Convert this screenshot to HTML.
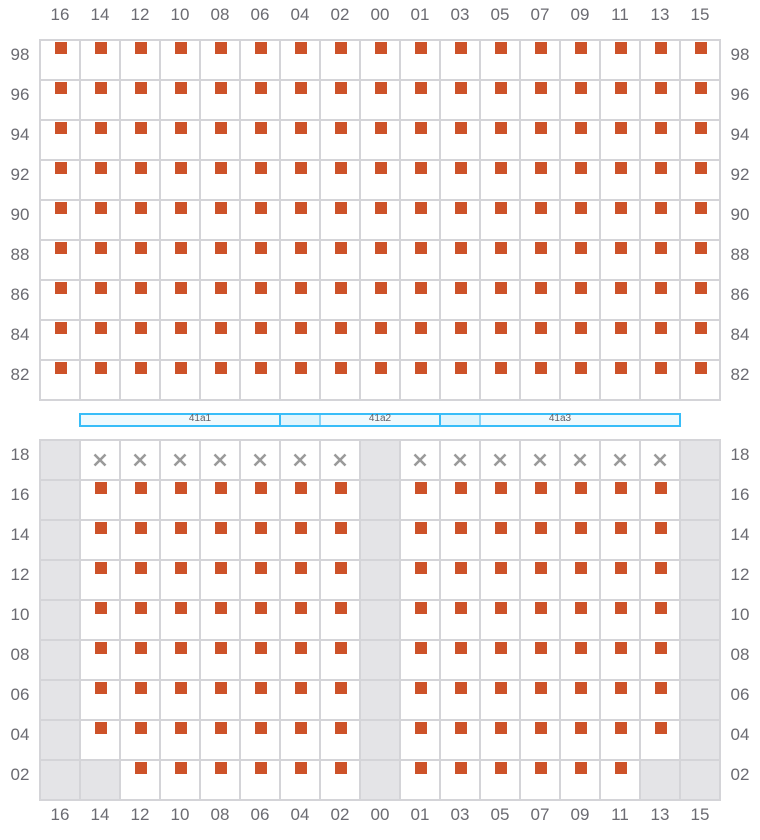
<!DOCTYPE html>
<html>
<head>
<meta charset="utf-8">
<style>
  html, body { margin: 0; padding: 0; background: #ffffff; }
  svg { display: block; }
  text { font-family: "Liberation Sans", Arial, sans-serif; }
  .ax { font-size: 17px; fill: #6b6b72; text-anchor: middle; }
  .bl { font-size: 10px; fill: #5f5f66; text-anchor: middle; }
</style>
</head>
<body>
<svg width="760" height="840" viewBox="0 0 760 840" xmlns="http://www.w3.org/2000/svg">
  <defs>
    <pattern id="sq" patternUnits="userSpaceOnUse" x="40" y="40" width="40" height="40">
      <rect x="15" y="2" width="12" height="12" fill="#cd5229"/>
    </pattern>
    <pattern id="xx" patternUnits="userSpaceOnUse" x="40" y="40" width="40" height="40">
      <path d="M14.5 14.5 L25.5 25.5 M25.5 14.5 L14.5 25.5" stroke="#9a9a9a" stroke-width="2.6" fill="none"/>
    </pattern>
  </defs>

  <rect x="0" y="0" width="760" height="840" fill="#ffffff"/>

  <!-- TOP SECTION -->
  <rect x="40" y="40" width="680" height="360" fill="#ffffff"/>
  <rect x="40" y="40" width="680" height="360" fill="url(#sq)"/>
  <g stroke="#d4d4d8" stroke-width="2" stroke-linecap="square">
    <line x1="40" y1="40" x2="40" y2="400"/>
    <line x1="80" y1="40" x2="80" y2="400"/>
    <line x1="120" y1="40" x2="120" y2="400"/>
    <line x1="160" y1="40" x2="160" y2="400"/>
    <line x1="200" y1="40" x2="200" y2="400"/>
    <line x1="240" y1="40" x2="240" y2="400"/>
    <line x1="280" y1="40" x2="280" y2="400"/>
    <line x1="320" y1="40" x2="320" y2="400"/>
    <line x1="360" y1="40" x2="360" y2="400"/>
    <line x1="400" y1="40" x2="400" y2="400"/>
    <line x1="440" y1="40" x2="440" y2="400"/>
    <line x1="480" y1="40" x2="480" y2="400"/>
    <line x1="520" y1="40" x2="520" y2="400"/>
    <line x1="560" y1="40" x2="560" y2="400"/>
    <line x1="600" y1="40" x2="600" y2="400"/>
    <line x1="640" y1="40" x2="640" y2="400"/>
    <line x1="680" y1="40" x2="680" y2="400"/>
    <line x1="720" y1="40" x2="720" y2="400"/>
    <line x1="40" y1="40" x2="720" y2="40"/>
    <line x1="40" y1="80" x2="720" y2="80"/>
    <line x1="40" y1="120" x2="720" y2="120"/>
    <line x1="40" y1="160" x2="720" y2="160"/>
    <line x1="40" y1="200" x2="720" y2="200"/>
    <line x1="40" y1="240" x2="720" y2="240"/>
    <line x1="40" y1="280" x2="720" y2="280"/>
    <line x1="40" y1="320" x2="720" y2="320"/>
    <line x1="40" y1="360" x2="720" y2="360"/>
    <line x1="40" y1="400" x2="720" y2="400"/>
  </g>

  <!-- BLUE BARS -->
  <g stroke="#38bdf8" stroke-width="2">
    <rect x="80" y="414" width="240" height="12" fill="rgba(56,189,248,0.08)"/>
    <rect x="280" y="414" width="200" height="12" fill="rgba(56,189,248,0.08)"/>
    <rect x="440" y="414" width="240" height="12" fill="rgba(56,189,248,0.08)"/>
  </g>
  <g stroke="#8ad4f6" stroke-width="2">
    <line x1="320" y1="415" x2="320" y2="425"/>
    <line x1="480" y1="415" x2="480" y2="425"/>
  </g>
  <text class="bl" x="200" y="421">41a1</text>
  <text class="bl" x="380" y="421">41a2</text>
  <text class="bl" x="560" y="421">41a3</text>

  <!-- BOTTOM SECTION -->
  <rect x="40" y="440" width="680" height="360" fill="#ffffff"/>
  <g fill="#e4e4e7">
    <rect x="40" y="440" width="40" height="360"/>
    <rect x="360" y="440" width="40" height="360"/>
    <rect x="680" y="440" width="40" height="360"/>
    <rect x="80" y="760" width="40" height="40"/>
    <rect x="640" y="760" width="40" height="40"/>
  </g>
  <rect x="80" y="440" width="280" height="40" fill="url(#xx)"/>
  <rect x="400" y="440" width="280" height="40" fill="url(#xx)"/>
  <rect x="80" y="480" width="280" height="280" fill="url(#sq)"/>
  <rect x="400" y="480" width="280" height="280" fill="url(#sq)"/>
  <rect x="120" y="760" width="240" height="40" fill="url(#sq)"/>
  <rect x="400" y="760" width="240" height="40" fill="url(#sq)"/>
  <g stroke="#d4d4d8" stroke-width="2" stroke-linecap="square">
    <line x1="40" y1="440" x2="40" y2="800"/>
    <line x1="80" y1="440" x2="80" y2="800"/>
    <line x1="120" y1="440" x2="120" y2="800"/>
    <line x1="160" y1="440" x2="160" y2="800"/>
    <line x1="200" y1="440" x2="200" y2="800"/>
    <line x1="240" y1="440" x2="240" y2="800"/>
    <line x1="280" y1="440" x2="280" y2="800"/>
    <line x1="320" y1="440" x2="320" y2="800"/>
    <line x1="360" y1="440" x2="360" y2="800"/>
    <line x1="400" y1="440" x2="400" y2="800"/>
    <line x1="440" y1="440" x2="440" y2="800"/>
    <line x1="480" y1="440" x2="480" y2="800"/>
    <line x1="520" y1="440" x2="520" y2="800"/>
    <line x1="560" y1="440" x2="560" y2="800"/>
    <line x1="600" y1="440" x2="600" y2="800"/>
    <line x1="640" y1="440" x2="640" y2="800"/>
    <line x1="680" y1="440" x2="680" y2="800"/>
    <line x1="720" y1="440" x2="720" y2="800"/>
    <line x1="40" y1="440" x2="720" y2="440"/>
    <line x1="40" y1="480" x2="720" y2="480"/>
    <line x1="40" y1="520" x2="720" y2="520"/>
    <line x1="40" y1="560" x2="720" y2="560"/>
    <line x1="40" y1="600" x2="720" y2="600"/>
    <line x1="40" y1="640" x2="720" y2="640"/>
    <line x1="40" y1="680" x2="720" y2="680"/>
    <line x1="40" y1="720" x2="720" y2="720"/>
    <line x1="40" y1="760" x2="720" y2="760"/>
    <line x1="40" y1="800" x2="720" y2="800"/>
  </g>

  <!-- TOP AXIS LABELS -->
  <g>
    <text class="ax" x="60" y="20">16</text>
    <text class="ax" x="100" y="20">14</text>
    <text class="ax" x="140" y="20">12</text>
    <text class="ax" x="180" y="20">10</text>
    <text class="ax" x="220" y="20">08</text>
    <text class="ax" x="260" y="20">06</text>
    <text class="ax" x="300" y="20">04</text>
    <text class="ax" x="340" y="20">02</text>
    <text class="ax" x="380" y="20">00</text>
    <text class="ax" x="420" y="20">01</text>
    <text class="ax" x="460" y="20">03</text>
    <text class="ax" x="500" y="20">05</text>
    <text class="ax" x="540" y="20">07</text>
    <text class="ax" x="580" y="20">09</text>
    <text class="ax" x="620" y="20">11</text>
    <text class="ax" x="660" y="20">13</text>
    <text class="ax" x="700" y="20">15</text>
  </g>

  <!-- BOTTOM AXIS LABELS -->
  <g>
    <text class="ax" x="60" y="820">16</text>
    <text class="ax" x="100" y="820">14</text>
    <text class="ax" x="140" y="820">12</text>
    <text class="ax" x="180" y="820">10</text>
    <text class="ax" x="220" y="820">08</text>
    <text class="ax" x="260" y="820">06</text>
    <text class="ax" x="300" y="820">04</text>
    <text class="ax" x="340" y="820">02</text>
    <text class="ax" x="380" y="820">00</text>
    <text class="ax" x="420" y="820">01</text>
    <text class="ax" x="460" y="820">03</text>
    <text class="ax" x="500" y="820">05</text>
    <text class="ax" x="540" y="820">07</text>
    <text class="ax" x="580" y="820">09</text>
    <text class="ax" x="620" y="820">11</text>
    <text class="ax" x="660" y="820">13</text>
    <text class="ax" x="700" y="820">15</text>
  </g>

  <!-- LEFT/RIGHT LABELS TOP -->
  <g>
    <text class="ax" x="20" y="60">98</text>
    <text class="ax" x="20" y="100">96</text>
    <text class="ax" x="20" y="140">94</text>
    <text class="ax" x="20" y="180">92</text>
    <text class="ax" x="20" y="220">90</text>
    <text class="ax" x="20" y="260">88</text>
    <text class="ax" x="20" y="300">86</text>
    <text class="ax" x="20" y="340">84</text>
    <text class="ax" x="20" y="380">82</text>
    <text class="ax" x="740" y="60">98</text>
    <text class="ax" x="740" y="100">96</text>
    <text class="ax" x="740" y="140">94</text>
    <text class="ax" x="740" y="180">92</text>
    <text class="ax" x="740" y="220">90</text>
    <text class="ax" x="740" y="260">88</text>
    <text class="ax" x="740" y="300">86</text>
    <text class="ax" x="740" y="340">84</text>
    <text class="ax" x="740" y="380">82</text>
  </g>

  <!-- LEFT/RIGHT LABELS BOTTOM -->
  <g>
    <text class="ax" x="20" y="460">18</text>
    <text class="ax" x="20" y="500">16</text>
    <text class="ax" x="20" y="540">14</text>
    <text class="ax" x="20" y="580">12</text>
    <text class="ax" x="20" y="620">10</text>
    <text class="ax" x="20" y="660">08</text>
    <text class="ax" x="20" y="700">06</text>
    <text class="ax" x="20" y="740">04</text>
    <text class="ax" x="20" y="780">02</text>
    <text class="ax" x="740" y="460">18</text>
    <text class="ax" x="740" y="500">16</text>
    <text class="ax" x="740" y="540">14</text>
    <text class="ax" x="740" y="580">12</text>
    <text class="ax" x="740" y="620">10</text>
    <text class="ax" x="740" y="660">08</text>
    <text class="ax" x="740" y="700">06</text>
    <text class="ax" x="740" y="740">04</text>
    <text class="ax" x="740" y="780">02</text>
  </g>
</svg>
</body>
</html>
